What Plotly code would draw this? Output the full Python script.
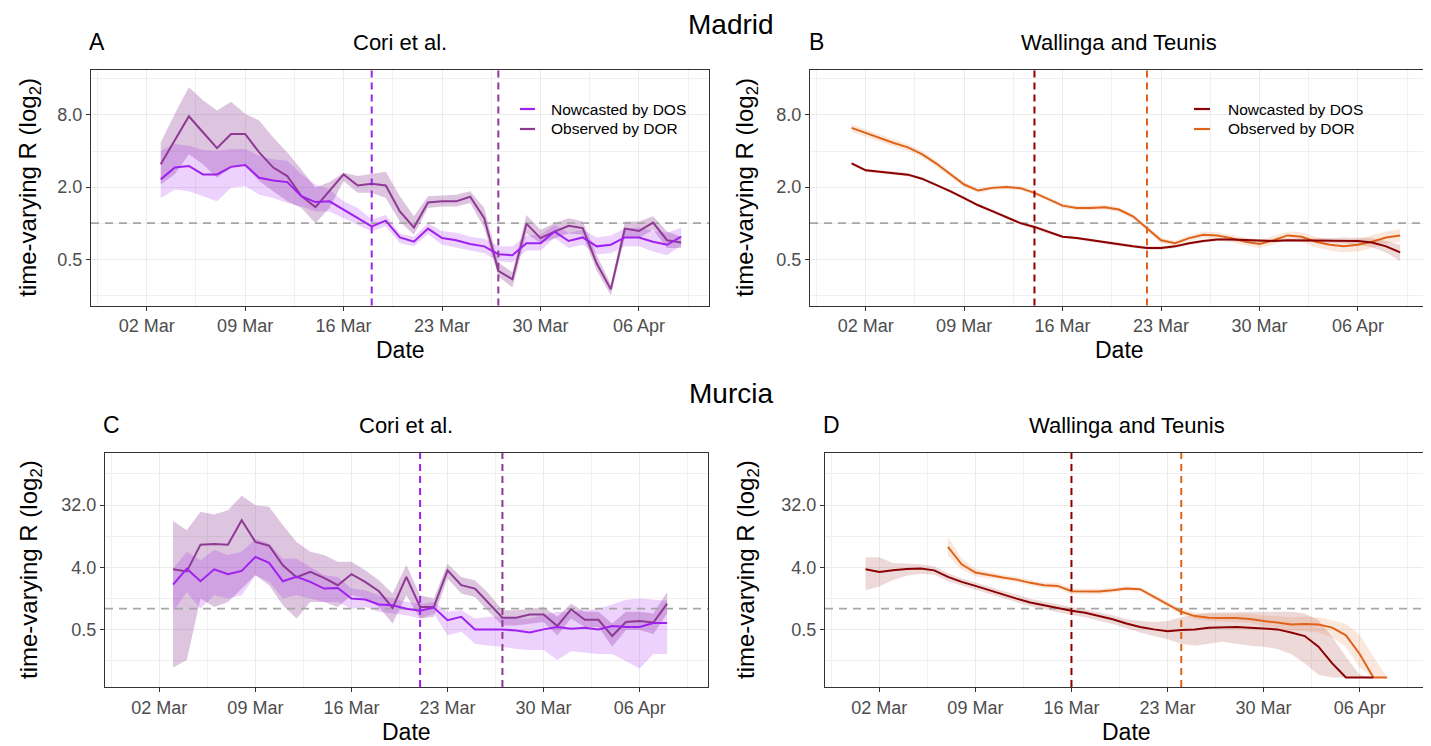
import numpy as np
import pandas as pd
import plotly.graph_objects as go

# The page body has an 8px margin, so the figure is sized/offset to fill the 1431x746 window.
OFF = 8
W, H = 1431 - OFF, 746 - OFF
FONT = "Liberation Sans, Arial, sans-serif"

# ---------------- DATA ----------------
# Madrid, Cori et al. (daily from 2020-03-03)
A_start = "2020-03-03"
A_now = [2.32, 2.91, 3.00, 2.55, 2.55, 2.95, 3.06, 2.39, 2.27, 2.20, 1.68, 1.50, 1.52, 1.30, 1.10, 0.94, 1.05, 0.76, 0.70, 0.90,
         0.75, 0.72, 0.67, 0.64, 0.55, 0.54, 0.68, 0.68, 0.85, 0.71, 0.76, 0.64, 0.66, 0.76, 0.76, 0.70, 0.66, 0.77]
A_now_lo = [1.62, 1.91, 1.85, 1.68, 1.52, 1.97, 2.04, 1.73, 1.62, 1.47, 1.38, 1.25, 1.25, 1.10, 0.97, 0.85, 0.94, 0.68, 0.64, 0.81,
            0.66, 0.63, 0.59, 0.56, 0.48, 0.47, 0.59, 0.59, 0.75, 0.62, 0.66, 0.55, 0.56, 0.64, 0.64, 0.58, 0.54, 0.65]
A_now_hi = [4.02, 4.57, 4.43, 4.08, 4.02, 4.15, 4.15, 3.65, 3.42, 3.31, 2.56, 2.10, 1.91, 1.52, 1.34, 1.07, 1.17, 0.82, 0.77, 1.00,
            0.86, 0.83, 0.77, 0.74, 0.64, 0.64, 0.79, 0.80, 0.97, 0.83, 0.88, 0.76, 0.79, 0.90, 0.92, 0.86, 0.83, 0.92]
A_obs = [3.10, 4.90, 7.80, 5.74, 4.23, 5.55, 5.55, 3.89, 2.91, 2.47, 1.68, 1.36, 1.85, 2.55, 2.06, 2.13, 2.06, 1.25, 0.92, 1.49,
         1.52, 1.52, 1.66, 1.10, 0.40, 0.34, 0.99, 0.75, 0.85, 0.95, 0.91, 0.46, 0.28, 0.90, 0.86, 1.01, 0.72, 0.69]
A_obs_lo = [2.10, 2.56, 3.76, 3.10, 2.39, 2.91, 3.01, 2.25, 1.85, 1.52, 1.34, 1.00, 1.34, 2.25, 1.79, 1.79, 1.62, 1.03, 0.80, 1.34,
            1.38, 1.38, 1.47, 0.91, 0.36, 0.29, 0.82, 0.68, 0.75, 0.82, 0.80, 0.40, 0.25, 0.77, 0.75, 0.88, 0.62, 0.62]
A_obs_hi = [4.72, 8.20, 13.6, 10.6, 8.70, 10.3, 8.20, 7.20, 5.20, 3.89, 2.81, 1.97, 2.20, 2.64, 2.47, 2.56, 2.69, 1.68, 1.14, 1.68,
            1.71, 1.73, 1.85, 1.34, 0.47, 0.39, 1.17, 0.88, 1.00, 1.10, 1.03, 0.54, 0.31, 1.03, 1.03, 1.14, 0.85, 0.77]
A_vlines = ["2020-03-18", "2020-03-27"]

# Madrid, Wallinga and Teunis (daily from 2020-03-01)
B_start = "2020-03-01"
B_now = [3.16, 2.76, 2.68, 2.61, 2.54, 2.35, 2.10, 1.85, 1.62, 1.41, 1.26, 1.12, 1.00, 0.93, 0.84, 0.77, 0.75, 0.72, 0.69, 0.66,
         0.64, 0.62, 0.62, 0.64, 0.68, 0.71, 0.73, 0.73, 0.72, 0.71, 0.71, 0.72, 0.72, 0.72, 0.72, 0.72, 0.71, 0.69, 0.64, 0.57]
B_now_lo = [3.06, 2.68, 2.60, 2.53, 2.46, 2.28, 2.04, 1.80, 1.57, 1.37, 1.22, 1.09, 0.97, 0.89, 0.81, 0.75, 0.73, 0.70, 0.67, 0.64,
            0.62, 0.60, 0.60, 0.62, 0.66, 0.69, 0.71, 0.71, 0.70, 0.69, 0.69, 0.70, 0.70, 0.69, 0.69, 0.68, 0.66, 0.63, 0.57, 0.48]
B_now_hi = [3.26, 2.84, 2.76, 2.69, 2.62, 2.42, 2.16, 1.90, 1.67, 1.45, 1.30, 1.15, 1.03, 0.96, 0.87, 0.79, 0.77, 0.74, 0.71, 0.68,
            0.66, 0.64, 0.64, 0.66, 0.70, 0.73, 0.75, 0.75, 0.74, 0.73, 0.73, 0.74, 0.74, 0.75, 0.75, 0.76, 0.76, 0.75, 0.71, 0.66]
B_obs = [6.24, 5.66, 5.14, 4.67, 4.29, 3.77, 3.16, 2.59, 2.10, 1.87, 1.97, 2.00, 1.96, 1.79, 1.59, 1.40, 1.34, 1.34, 1.36, 1.30,
         1.14, 0.91, 0.72, 0.68, 0.75, 0.80, 0.79, 0.75, 0.70, 0.67, 0.72, 0.79, 0.77, 0.70, 0.66, 0.64, 0.66, 0.70, 0.76, 0.79]
B_obs_lo = [5.80, 5.30, 4.80, 4.35, 4.03, 3.55, 2.98, 2.46, 2.00, 1.79, 1.89, 1.92, 1.88, 1.72, 1.53, 1.34, 1.28, 1.28, 1.30, 1.24,
            1.09, 0.87, 0.68, 0.65, 0.71, 0.75, 0.74, 0.70, 0.65, 0.62, 0.66, 0.73, 0.70, 0.63, 0.59, 0.57, 0.58, 0.62, 0.68, 0.70]
B_obs_hi = [6.70, 6.05, 5.50, 5.00, 4.55, 4.00, 3.35, 2.72, 2.20, 1.95, 2.05, 2.08, 2.04, 1.86, 1.65, 1.46, 1.40, 1.40, 1.42, 1.36,
            1.19, 0.95, 0.76, 0.71, 0.79, 0.85, 0.84, 0.80, 0.75, 0.72, 0.78, 0.85, 0.84, 0.77, 0.73, 0.71, 0.74, 0.79, 0.85, 0.89]
B_vlines = ["2020-03-14", "2020-03-22"]

# Murcia, Cori et al. (daily from 2020-03-03)
C_start = "2020-03-03"
C_now = [2.24, 3.81, 2.50, 3.73, 3.16, 3.53, 5.64, 4.62, 2.50, 2.89, 2.45, 1.96, 2.00, 1.40, 1.36, 1.15, 1.12, 1.00, 0.93, 1.04,
         0.68, 0.76, 0.50, 0.50, 0.50, 0.48, 0.45, 0.50, 0.54, 0.51, 0.53, 0.50, 0.56, 0.54, 0.54, 0.62, 0.62]
C_now_lo = [0.90, 1.75, 1.00, 1.57, 1.40, 1.57, 3.06, 2.45, 1.40, 1.57, 1.40, 1.25, 1.25, 1.00, 1.06, 0.90, 0.85, 0.80, 0.72, 0.85,
            0.41, 0.46, 0.31, 0.29, 0.28, 0.26, 0.25, 0.25, 0.18, 0.24, 0.23, 0.22, 0.22, 0.17, 0.135, 0.22, 0.22]
C_now_hi = [3.81, 6.70, 5.05, 7.10, 6.00, 6.70, 10.4, 8.80, 5.30, 5.30, 4.04, 3.06, 2.89, 1.96, 1.85, 1.57, 1.40, 1.25, 1.18, 1.25,
            0.90, 0.95, 0.72, 0.76, 0.76, 0.72, 0.72, 0.80, 0.90, 0.90, 0.95, 1.00, 1.15, 1.35, 1.40, 1.35, 1.30]
C_obs = [3.73, 3.48, 8.50, 8.70, 8.50, 19.3, 9.30, 8.20, 4.27, 2.86, 3.42, 2.80, 2.19, 3.16, 2.45, 1.79, 1.03, 2.89, 1.06, 1.06,
         3.60, 2.19, 1.96, 1.21, 0.74, 0.74, 0.82, 0.82, 0.56, 0.98, 0.69, 0.69, 0.40, 0.64, 0.66, 0.63, 1.18]
C_obs_lo = [0.14, 0.18, 1.40, 1.06, 1.25, 1.96, 3.06, 2.19, 1.12, 0.72, 1.25, 1.25, 1.06, 1.57, 1.40, 1.06, 0.61, 1.57, 0.72, 0.76,
            2.73, 1.66, 1.48, 0.90, 0.57, 0.57, 0.61, 0.64, 0.41, 0.72, 0.54, 0.54, 0.28, 0.49, 0.49, 0.43, 0.85]
C_obs_hi = [18.8, 13.8, 25.5, 23.3, 26.9, 43.5, 31.8, 30.1, 16.3, 9.30, 6.70, 6.00, 4.80, 4.80, 3.60, 2.59, 1.66, 4.30, 1.57, 1.40,
            4.50, 2.89, 2.59, 1.66, 0.95, 0.95, 1.00, 1.06, 0.76, 1.18, 0.90, 0.90, 0.61, 0.90, 0.90, 0.85, 1.75]
C_vlines = ["2020-03-21", "2020-03-27"]

# Murcia, Wallinga and Teunis
D_now_start = "2020-03-01"
D_now = [3.73, 3.41, 3.60, 3.78, 3.82, 3.60, 2.89, 2.45, 2.14, 1.85, 1.62, 1.40, 1.23, 1.12, 1.02, 0.93, 0.87, 0.78, 0.70, 0.61,
         0.54, 0.50, 0.47, 0.49, 0.50, 0.53, 0.54, 0.54, 0.53, 0.51, 0.50, 0.45, 0.40, 0.28, 0.16, 0.10, 0.10, 0.10]
D_now_lo = [1.85, 2.10, 2.60, 3.00, 3.20, 3.10, 2.50, 2.15, 1.88, 1.63, 1.43, 1.24, 1.08, 0.98, 0.89, 0.81, 0.75, 0.67, 0.60, 0.52,
            0.45, 0.40, 0.36, 0.31, 0.29, 0.31, 0.33, 0.31, 0.29, 0.28, 0.26, 0.22, 0.16, 0.11, 0.10, 0.10, 0.10, 0.10]
D_now_hi = [5.60, 5.60, 4.60, 4.50, 4.40, 4.10, 3.30, 2.75, 2.40, 2.08, 1.82, 1.58, 1.39, 1.27, 1.16, 1.06, 0.99, 0.89, 0.80, 0.71,
            0.66, 0.64, 0.66, 0.75, 0.82, 0.87, 0.88, 0.90, 0.90, 0.90, 0.90, 0.90, 0.85, 0.68, 0.39, 0.20, 0.11, 0.10]
D_obs_start = "2020-03-07"
D_obs = [7.90, 4.41, 3.34, 3.06, 2.83, 2.64, 2.37, 2.19, 2.14, 1.79, 1.77, 1.77, 1.85, 1.96, 1.92, 1.48, 1.16, 0.90, 0.78, 0.74,
         0.73, 0.73, 0.71, 0.66, 0.63, 0.59, 0.60, 0.59, 0.53, 0.41, 0.22, 0.10, 0.10]
D_obs_lo = [5.80, 3.70, 2.95, 2.75, 2.58, 2.42, 2.17, 2.00, 1.95, 1.62, 1.60, 1.60, 1.70, 1.82, 1.78, 1.36, 1.06, 0.82, 0.70, 0.66,
            0.65, 0.64, 0.62, 0.56, 0.52, 0.48, 0.47, 0.45, 0.38, 0.28, 0.14, 0.10, 0.10]
D_obs_hi = [11.0, 5.40, 3.80, 3.40, 3.10, 2.90, 2.60, 2.40, 2.35, 2.00, 1.95, 1.95, 2.00, 2.10, 2.05, 1.62, 1.28, 1.00, 0.88, 0.85,
            0.85, 0.85, 0.84, 0.80, 0.78, 0.75, 0.76, 0.75, 0.68, 0.60, 0.42, 0.20, 0.10]
D_vlines = ["2020-03-16", "2020-03-24"]

x_ticks = ["2020-03-02", "2020-03-09", "2020-03-16", "2020-03-23", "2020-03-30", "2020-04-06"]
x_minor = ["2020-02-27 12:00", "2020-03-05 12:00", "2020-03-12 12:00", "2020-03-19 12:00",
           "2020-03-26 12:00", "2020-04-02 12:00", "2020-04-09 12:00"]
x_range = ["2020-02-27 01:00", "2020-04-10 23:30"]

y_top_ticks = [0.5, 2, 8]
y_top_text = ["0.5", "2.0", "8.0"]
y_top_minor = [0.25, 1, 4, 16]
y_bot_ticks = [0.5, 4, 32]
y_bot_text = ["0.5", "4.0", "32.0"]
y_bot_minor = [2 ** -2.5, 2 ** 0.5, 2 ** 3.5, 2 ** 6.5]

legend_labels = ["Nowcasted by DOS", "Observed by DOR"]

# ---------------- STYLE ----------------
C_NOW, C_OBS = "#A020F0", "#8E3A94"
W_NOW, W_OBS = "#8B0000", "#E0631A"
F_C_NOW, F_C_OBS = "rgba(160,32,240,0.20)", "rgba(142,58,148,0.30)"
F_W_NOW, F_W_OBS = "rgba(139,0,0,0.15)", "rgba(224,99,26,0.15)"

# panel boxes in window pixels (x0, x1, y_top, y_bottom)
boxes = {
    1: (91, 709, 70, 305.5),
    2: (810, 1428, 70, 305.5),
    3: (105, 708, 453, 687),
    4: (825, 1428, 453, 687),
}


def px(x):
    return (x - OFF) / W


def py(y):
    return 1 - (y - OFF) / H


fig = go.Figure()


def dates(start, n):
    return pd.date_range(start, periods=n, freq="D")


def ax(i, name):
    return name if i == 1 else f"{name}{i}"


def add_ribbon(i, start, lo, hi, color):
    x = list(dates(start, len(lo)))
    fig.add_trace(go.Scatter(x=x + x[::-1], y=list(hi) + list(lo)[::-1], fill="toself",
                             fillcolor=color, line=dict(width=0), mode="lines",
                             hoverinfo="skip", showlegend=False,
                             xaxis=ax(i, "x"), yaxis=ax(i, "y")))


def add_line(i, start, vals, color):
    fig.add_trace(go.Scatter(x=dates(start, len(vals)), y=vals, mode="lines",
                             line=dict(color=color, width=2), showlegend=False,
                             xaxis=ax(i, "x"), yaxis=ax(i, "y")))


def add_refline(i):
    fig.add_trace(go.Scatter(x=x_range, y=[1, 1], mode="lines",
                             line=dict(color="#A6A6A6", width=1.6, dash="8px,6px"),
                             hoverinfo="skip", showlegend=False,
                             xaxis=ax(i, "x"), yaxis=ax(i, "y")))


add_ribbon(1, A_start, A_obs_lo, A_obs_hi, F_C_OBS)
add_ribbon(1, A_start, A_now_lo, A_now_hi, F_C_NOW)
add_refline(1)
add_line(1, A_start, A_obs, C_OBS)
add_line(1, A_start, A_now, C_NOW)

add_ribbon(2, B_start, B_obs_lo, B_obs_hi, F_W_OBS)
add_ribbon(2, B_start, B_now_lo, B_now_hi, F_W_NOW)
add_refline(2)
add_line(2, B_start, B_obs, W_OBS)
add_line(2, B_start, B_now, W_NOW)

add_ribbon(3, C_start, C_obs_lo, C_obs_hi, F_C_OBS)
add_ribbon(3, C_start, C_now_lo, C_now_hi, F_C_NOW)
add_refline(3)
add_line(3, C_start, C_obs, C_OBS)
add_line(3, C_start, C_now, C_NOW)

add_ribbon(4, D_now_start, D_now_lo, D_now_hi, F_W_NOW)
add_ribbon(4, D_obs_start, D_obs_lo, D_obs_hi, F_W_OBS)
add_refline(4)
add_line(4, D_obs_start, D_obs, W_OBS)
add_line(4, D_now_start, D_now, W_NOW)

GRID = "#EBEBEB"
TICKFONT = dict(size=18, color="#4D4D4D", family=FONT)
layout = dict(width=W, height=H, margin=dict(l=0, r=0, t=0, b=0, autoexpand=False), autosize=False,
              paper_bgcolor="white", plot_bgcolor="white",
              font=dict(family=FONT, color="black"), showlegend=False)

for i, (x0, x1, y0, y1) in boxes.items():
    top = i in (1, 2)
    layout[ax(i, "xaxis")] = dict(
        domain=[px(x0), px(x1)], anchor=ax(i, "y"), type="date", range=x_range,
        tickmode="array", tickvals=x_ticks, tickformat="%d %b",
        ticks="outside", ticklen=4, tickcolor="#333333", tickwidth=1,
        tickfont=TICKFONT,
        showgrid=True, gridcolor=GRID, gridwidth=1.4,
        minor=dict(tickmode="array", tickvals=x_minor, showgrid=True, gridcolor="#F0F0F0",
                   gridwidth=1.0, ticks=""),
        showline=True, mirror=True, linecolor="#333333", linewidth=1.2, zeroline=False)
    if top:
        yr = [np.log10(2 ** -2.284), np.log10(2 ** 4.247)]
        tv, tt, mv = y_top_ticks, y_top_text, y_top_minor
    else:
        yr = [np.log10(2 ** -3.78), np.log10(2 ** 7.51)]
        tv, tt, mv = y_bot_ticks, y_bot_text, y_bot_minor
    layout[ax(i, "yaxis")] = dict(
        domain=[py(y1), py(y0)], anchor=ax(i, "x"), type="log", range=yr,
        tickmode="array", tickvals=tv, ticktext=tt,
        ticks="outside", ticklen=4, tickcolor="#333333", tickwidth=1,
        tickfont=TICKFONT,
        showgrid=True, gridcolor=GRID, gridwidth=1.4,
        minor=dict(tickmode="array", tickvals=mv, showgrid=True, gridcolor="#F0F0F0",
                   gridwidth=1.0, ticks=""),
        showline=True, mirror=True, linecolor="#333333", linewidth=1.2, zeroline=False)

fig.update_layout(**layout)

shapes = []
for i, vl, cols in [(1, A_vlines, (C_NOW, C_OBS)), (2, B_vlines, (W_NOW, W_OBS)),
                    (3, C_vlines, (C_NOW, C_OBS)), (4, D_vlines, (W_NOW, W_OBS))]:
    for d, c in zip(vl, cols):
        shapes.append(dict(type="line", xref=ax(i, "x"), yref=f"{ax(i, 'y')} domain",
                           x0=d, x1=d, y0=0, y1=1, line=dict(color=c, width=2, dash="7px,5px"),
                           layer="above"))

annotations = []


def txt(x, y, s, size, angle=0, xanchor="center", color="black"):
    annotations.append(dict(x=px(x), y=py(y), xref="paper", yref="paper", text=s,
                            showarrow=False, textangle=angle, xanchor=xanchor, yanchor="middle",
                            font=dict(size=size, color=color, family=FONT)))


# manual legends inside panels A and B
for (rx0, rx1, lx0, lx1, tx), cols in [((503, 706, 520, 535, 549), (C_NOW, C_OBS)),
                                         ((1180, 1376, 1194, 1210, 1226), (W_NOW, W_OBS))]:
    shapes.append(dict(type="rect", xref="paper", yref="paper", x0=px(rx0), x1=px(rx1),
                       y0=py(148), y1=py(90), fillcolor="white",
                       line=dict(width=0), layer="between"))
    for k, (lab, c) in enumerate(zip(legend_labels, cols)):
        yy = 109 + 20 * k
        shapes.append(dict(type="line", xref="paper", yref="paper", x0=px(lx0), x1=px(lx1),
                           y0=py(yy), y1=py(yy), line=dict(color=c, width=2.2), layer="above"))
        txt(tx, yy, lab, 15.5, xanchor="left")

txt(731, 24, "Madrid", 28)
txt(731, 393, "Murcia", 28)
for i, (letter, title) in {1: ("A", "Cori et al."), 2: ("B", "Wallinga and Teunis"),
                           3: ("C", "Cori et al."), 4: ("D", "Wallinga and Teunis")}.items():
    x0, x1, y0, y1 = boxes[i]
    ty = 42 if i in (1, 2) else 425
    txt(x0 + 6, ty, letter, 23)
    txt((x0 + x1) / 2, ty, title, 22)
    txt((x0 + x1) / 2, y1 + 45, "Date", 23)
    ytx = 30 if i in (1, 3) else 747
    txt(ytx, (y0 + y1) / 2, "time-varying R (log<sub>2</sub>)", 24, angle=-90)

fig.update_layout(shapes=shapes, annotations=annotations)
fig.write_html("out.html")
